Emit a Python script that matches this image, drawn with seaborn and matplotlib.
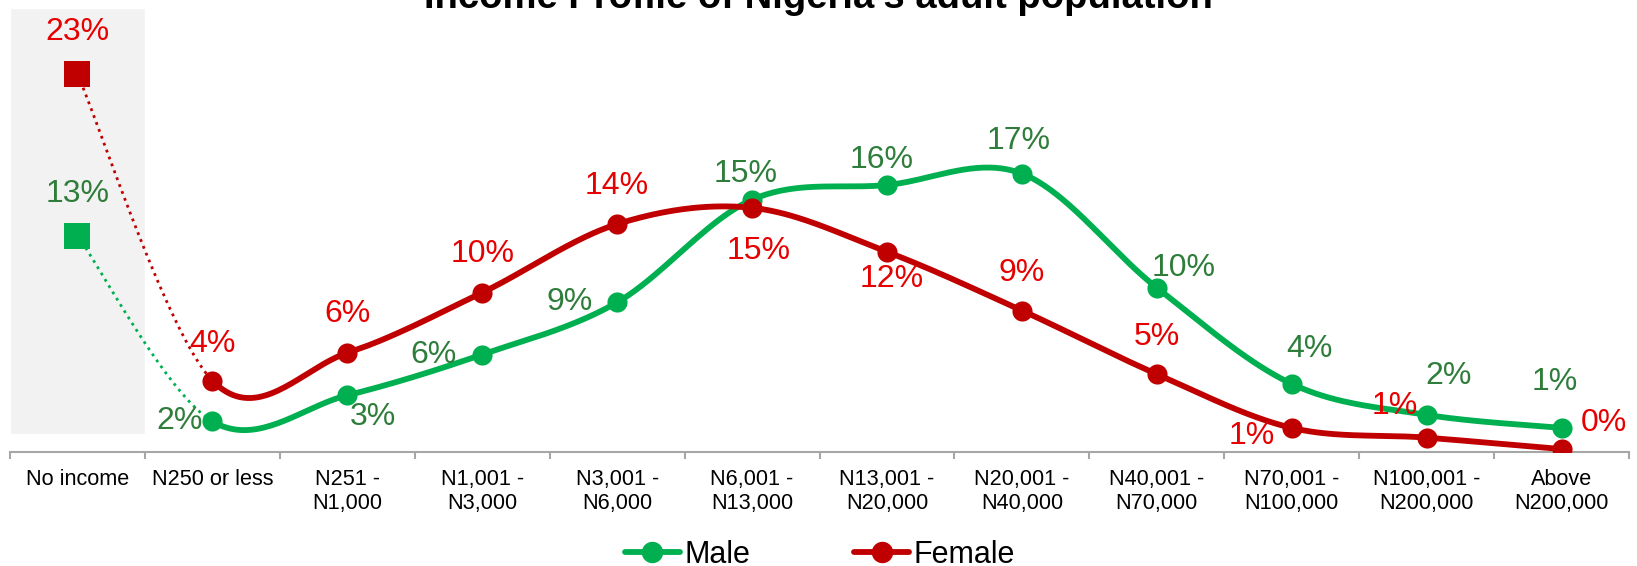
import numpy as np
import pandas as pd
import matplotlib
matplotlib.use('Agg')
import matplotlib.pyplot as plt
import seaborn as sns
from matplotlib.lines import Line2D

# values (percent of adults)
categories = ['No income', 'N250 or less', 'N251 -\nN1,000', 'N1,001 -\nN3,000',
              'N3,001 -\nN6,000', 'N6,001 -\nN13,000', 'N13,001 -\nN20,000',
              'N20,001 -\nN40,000', 'N40,001 -\nN70,000', 'N70,001 -\nN100,000',
              'N100,001 -\nN200,000', 'Above\nN200,000']
male = [13.1, 1.7, 3.3, 5.8, 9.0, 15.3, 16.2, 16.9, 9.9, 4.0, 2.1, 1.3]
female = [23.0, 4.2, 5.9, 9.6, 13.8, 14.8, 12.1, 8.5, 4.6, 1.3, 0.7, 0.0]
male_labels = ['13%', '2%', '3%', '6%', '9%', '15%', '16%', '17%', '10%', '4%', '2%', '1%']
female_labels = ['23%', '4%', '6%', '10%', '14%', '15%', '12%', '9%', '5%', '1%', '1%', '0%']

# label placement (pixel offsets from each point)
male_offsets = [(0, 42), (-33, 0), (26, -22), (-49, 0), (-47, 0), (-6, 26), (-5, 25),
                (-3, 33), (27, 20), (18, 35), (22, 39), (-7, 46)]
female_offsets = [(0, 42), (0, 37), (0, 39), (0, 39), (0, 38), (7, -43), (5, -27),
                  (0, 38), (0, 37), (-40, -8), (-32, 32), (42, 26)]

MALE_LINE, MALE_TEXT = '#00B050', '#2E7D3A'
FEMALE_LINE, FEMALE_TEXT = '#C00000', '#E60000'


def smooth(vals, n=40):
    # excel-like smoothed line (catmull-rom), one chunk per segment
    pts = np.column_stack([np.arange(len(vals)), vals]).astype(float)
    ext = np.vstack([pts[0], pts, pts[-1]])
    segs = []
    t = np.linspace(0, 1, n)[:, None]
    for i in range(len(pts) - 1):
        p0, p1, p2, p3 = ext[i], ext[i + 1], ext[i + 2], ext[i + 3]
        m1, m2 = (p2 - p0) / 2, (p3 - p1) / 2
        h00 = 2 * t**3 - 3 * t**2 + 1
        h10 = t**3 - 2 * t**2 + t
        h01 = -2 * t**3 + 3 * t**2
        h11 = t**3 - t**2
        segs.append(h00 * p1 + h10 * m1 + h01 * p2 + h11 * m2)
    return segs


sns.set_theme(style='white')
plt.rcParams['font.family'] = ['Liberation Sans', 'DejaVu Sans']
plt.rcParams['text.color'] = 'black'

fig = plt.figure(figsize=(16.37, 5.66), dpi=100)
ax = fig.add_axes([10 / 1637, 1 - 452 / 566, 1619 / 1637, 452 / 566])
ax.set_xlim(-0.5, 11.5)
ax.set_ylim(-0.18, 27.55)

# grey band behind "No income"
ax.bar([0], [26.13], bottom=0.92, width=1.0, color='#F2F2F2', zorder=0)

for vals, line_c, text_c, labs, offs in [(male, MALE_LINE, MALE_TEXT, male_labels, male_offsets),
                                         (female, FEMALE_LINE, FEMALE_TEXT, female_labels, female_offsets)]:
    segs = smooth(vals)
    first = pd.DataFrame(segs[0], columns=['x', 'y'])
    rest = pd.DataFrame(np.vstack(segs[1:]), columns=['x', 'y'])
    sns.lineplot(data=first, x='x', y='y', sort=False, estimator=None, ax=ax,
                 color=line_c, linewidth=2.0, linestyle=':', zorder=2)
    sns.lineplot(data=rest, x='x', y='y', sort=False, estimator=None, ax=ax,
                 color=line_c, linewidth=4.2, solid_capstyle='round', zorder=3)
    pts = pd.DataFrame({'x': np.arange(len(vals)), 'y': vals})
    sns.scatterplot(data=pts.iloc[:1], x='x', y='y', ax=ax, marker='s', s=350,
                    color=line_c, linewidth=0, zorder=4)
    sns.scatterplot(data=pts.iloc[1:], x='x', y='y', ax=ax, marker='o', s=210,
                    color=line_c, linewidth=0, zorder=4)
    for i, (lab, off) in enumerate(zip(labs, offs)):
        ax.annotate(lab, (i, vals[i]), xytext=off, textcoords='offset pixels',
                    ha='center', va='center', fontsize=23, color=text_c, zorder=5)

ax.set_xlabel('')
ax.set_ylabel('')
ax.set_xticks(range(len(categories)))
ax.set_xticklabels(categories, fontsize=15.6, linespacing=1.2, color='black')
ax.set_xticks(np.arange(-0.5, 12, 1), minor=True)
ax.tick_params(axis='x', which='major', length=0, pad=12, labelcolor='black')
ax.tick_params(axis='x', which='minor', length=5, width=1.5, color='#A6A6A6',
               direction='out', bottom=True)
ax.set_yticks([])
for side in ['left', 'right', 'top']:
    ax.spines[side].set_visible(False)
ax.spines['bottom'].set_color('#A6A6A6')
ax.spines['bottom'].set_linewidth(1.5)
ax.set_facecolor('white')
if ax.get_legend():
    ax.get_legend().remove()

fig.text(0.5, 1 - 8 / 566, "Income Profile of Nigeria's adult population",
         ha='center', va='baseline', fontsize=27.5, fontweight='bold', color='black')

handles = [Line2D([], [], color=MALE_LINE, lw=4.2, marker='o', markersize=14.4),
           Line2D([], [], color=FEMALE_LINE, lw=4.2, marker='o', markersize=14.4)]
fig.legend(handles, ['Male', 'Female'], loc='center', bbox_to_anchor=(820 / 1637, 1 - 555 / 566),
           ncol=2, frameon=False, fontsize=22, handlelength=1.8, handletextpad=0.15,
           columnspacing=3.4, borderaxespad=0, borderpad=0, labelcolor='black')

fig.savefig('out.png', dpi=100)
